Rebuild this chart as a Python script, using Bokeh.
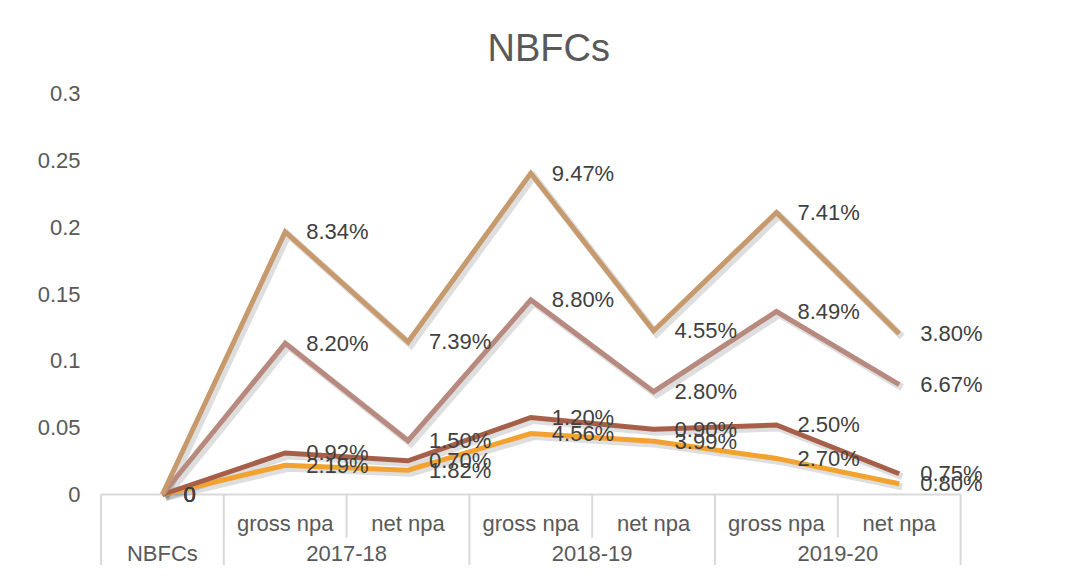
import numpy as np
from bokeh.plotting import figure
from bokeh.models import Range1d, FixedTicker, ColumnDataSource
from bokeh.transform import dodge
from bokeh.embed import file_html
from bokeh.resources import INLINE
from bokeh.core.properties import value

# ---------------- data ----------------
chart_title = "NBFCs"
groups = ["NBFCs", "2017-18", "2017-18", "2018-19", "2018-19", "2019-20", "2019-20"]
subcats = ["", "gross npa", "net npa", "gross npa", "net npa", "gross npa", "net npa"]

# stacked line series (bottom to top)
s_orange = [0, 0.0219, 0.0182, 0.0456, 0.0399, 0.0270, 0.0080]
s_darkred = [0, 0.0092, 0.0070, 0.0120, 0.0090, 0.0250, 0.0075]
s_rose = [0, 0.0820, 0.0150, 0.0880, 0.0280, 0.0849, 0.0667]
s_tan = [0, 0.0834, 0.0739, 0.0947, 0.0455, 0.0741, 0.0380]

y_ticks = [0, 0.05, 0.1, 0.15, 0.2, 0.25, 0.3]
y_tick_labels = ["0", "0.05", "0.1", "0.15", "0.2", "0.25", "0.3"]

# ---------------- styles / layout ----------------
series = [s_orange, s_darkred, s_rose, s_tan]
colors = ["#F2A22E", "#A6604A", "#B8897E", "#C69A6C"]
FONT = value("Liberation Sans")

W, H = 1061, 565
FRAME_LEFT = 85
FRAME_TOP = 73
CAT_PX = 122.8
X0_PX = 100.5
Y0_PX = 494.0
PX_PER_UNIT = 401.0 / 0.3

x_start = (FRAME_LEFT - X0_PX) / CAT_PX
x_end = (W - X0_PX) / CAT_PX
y_end = (Y0_PX - FRAME_TOP) / PX_PER_UNIT
y_start = -(H - Y0_PX) / PX_PER_UNIT

p = figure(width=W, height=H,
           x_range=Range1d(x_start, x_end), y_range=Range1d(y_start, y_end),
           output_backend="svg", toolbar_location=None, x_axis_location=None,
           min_border_left=FRAME_LEFT, min_border_right=0,
           min_border_bottom=0, min_border_top=FRAME_TOP)
p.styles = {"box-shadow": "-2px -2px 0 0 #d9d9d9"}
p.outline_line_color = None
p.xgrid.visible = False
p.ygrid.visible = False
p.background_fill_color = "white"
p.border_fill_color = "white"

p.title.text = chart_title
p.title.align = "left"
p.title.offset = 402
p.title.text_font = "Liberation Sans"
p.title.text_font_size = "38px"
p.title.text_font_style = "normal"
p.title.text_color = "#595959"

yax = p.yaxis[0]
yax.ticker = FixedTicker(ticks=y_ticks)
yax.major_label_overrides = {t: l for t, l in zip(y_ticks, y_tick_labels)}
yax.axis_line_color = None
yax.major_tick_line_color = None
yax.minor_tick_line_color = None
yax.major_tick_in = 0
yax.major_tick_out = 0
yax.major_label_standoff = 5
yax.major_label_text_font = "Liberation Sans"
yax.major_label_text_font_size = "22px"
yax.major_label_text_color = "#595959"

n = len(subcats)
xs = [i + 0.5 for i in range(n)]

# ---------------- category table ----------------
short_y = -43.0 / PX_PER_UNIT
x0s, y0s, x1s, y1s = [], [], [], []
for k in range(n + 1):
    full = k == 0 or k == n or groups[k - 1] != groups[k]
    x0s.append(k); x1s.append(k)
    y0s.append(0); y1s.append(y_start if full else short_y)
x0s.append(0); x1s.append(n); y0s.append(0); y1s.append(0)
p.segment(x0=x0s, y0=y0s, x1=x1s, y1=y1s, line_color="#d9d9d9", line_width=2)

p.text(x=xs, y=[0] * n, text=subcats, y_offset=29,
       text_align="center", text_baseline="middle", text_font=FONT,
       text_font_size="22px", text_color="#595959")
uniq = []
for g in groups:
    if g not in uniq:
        uniq.append(g)
gx = [float(np.mean([xs[i] for i in range(n) if groups[i] == g])) for g in uniq]
p.text(x=gx, y=[0] * len(uniq), text=uniq, y_offset=59,
       text_align="center", text_baseline="middle", text_font=FONT,
       text_font_size="22px", text_color="#595959")

# ---------------- stacked lines ----------------
stacked = np.cumsum(np.array(series, dtype=float), axis=0)
sources = []
for vals, st in zip(series, stacked):
    labels = ["0" if v == 0 else f"{v * 100:.2f}%" for v in vals]
    sources.append(ColumnDataSource(dict(x=xs, y=list(st), label=labels)))

for src in sources:
    p.line(x=dodge("x", 3.0 / CAT_PX), y=dodge("y", -3.0 / PX_PER_UNIT), source=src,
           line_color="#000000", line_alpha=0.13, line_width=7, line_join="miter")
for src, c in zip(sources, colors):
    p.line(x="x", y="y", source=src, line_color=c, line_width=5, line_join="miter")

for src in sources:
    p.text(x="x", y="y", text="label", source=src, x_offset=21, y_offset=0,
           text_align="left", text_baseline="middle", text_font=FONT,
           text_font_size="22px", text_color="#404040")

open("out.html", "w").write(file_html(p, INLINE))
